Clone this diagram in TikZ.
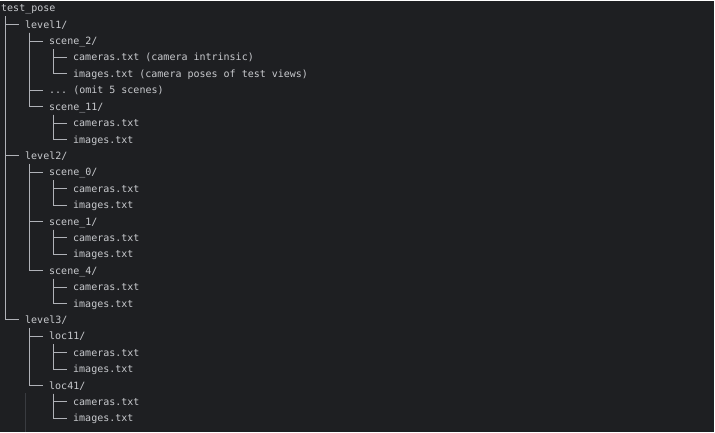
\documentclass[tikz,border=0pt]{standalone}
\usepackage{fontspec}
\setmonofont{DejaVu Sans Mono}
\usetikzlibrary{calc}

\definecolor{bgdark}{HTML}{1E1F22}
\definecolor{txtgray}{HTML}{C8CACE}
\definecolor{linegray}{HTML}{B0B2B8}
\definecolor{guidegray}{HTML}{393B40}

\tikzset{
    entry/.style={anchor=west, inner sep=0pt, text height=7.5pt, text depth=0.5pt,
        text=txtgray, font=\ttfamily\fontsize{10}{12}\selectfont},
    branch/.style={draw=linegray, line width=1pt, shorten >=6pt},
    guide/.style={draw=guidegray, line width=0.8pt}
}

% parent -> child connector of the tree
\newcommand{\treeedge}[2]{\draw[branch] ($(#1.west)+(4,8)$) |- (#2.west);}

\begin{document}
\begin{tikzpicture}[x=1pt, y=-1pt]

    % Frame
    \fill[white] (0,0) rectangle (715,433);
    \fill[bgdark] (0,1.5) rectangle (713.5,432);
    \useasboundingbox (0,0) rectangle (715,433);

    % Nodes

    \node[entry] (root)   at (1,8.3)    {test\_pose};
    \node[entry] (lvA)    at (25,24.7)  {level1/};
    \node[entry] (sc2)    at (49,41.1)  {scene\_2/};
    \node[entry] (sc2c)   at (73,57.5)  {cameras.txt (camera intrinsic)};
    \node[entry] (sc2i)   at (73,73.9)  {images.txt (camera poses of test views)};
    \node[entry] (omit)   at (49,90.3)  {... (omit 5 scenes)};
    \node[entry] (sc11)   at (49,106.7) {scene\_11/};
    \node[entry] (sc11c)  at (73,123.1) {cameras.txt};
    \node[entry] (sc11i)  at (73,139.5) {images.txt};

    \node[entry] (lvB)    at (25,155.9) {level2/};
    \node[entry] (sc0)    at (49,172.3) {scene\_0/};
    \node[entry] (sc0c)   at (73,188.7) {cameras.txt};
    \node[entry] (sc0i)   at (73,205.1) {images.txt};
    \node[entry] (sc1)    at (49,221.5) {scene\_1/};
    \node[entry] (sc1c)   at (73,237.9) {cameras.txt};
    \node[entry] (sc1i)   at (73,254.3) {images.txt};
    \node[entry] (sc4)    at (49,270.7) {scene\_4/};
    \node[entry] (sc4c)   at (73,287.1) {cameras.txt};
    \node[entry] (sc4i)   at (73,303.5) {images.txt};

    \node[entry] (lvC)    at (25,319.9) {level3/};
    \node[entry] (loc11)  at (49,336.3) {loc11/};
    \node[entry] (loc11c) at (73,352.7) {cameras.txt};
    \node[entry] (loc11i) at (73,369.1) {images.txt};
    \node[entry] (loc41)  at (49,385.5) {loc41/};
    \node[entry] (loc41c) at (73,401.9) {cameras.txt};
    \node[entry] (loc41i) at (73,418.3) {images.txt};

    % Tree lines

    \treeedge {root} {lvA}
    \treeedge {root} {lvB}
    \treeedge {root} {lvC}

    \treeedge {lvA} {sc2}
    \treeedge {lvA} {omit}
    \treeedge {lvA} {sc11}
    \treeedge {sc2} {sc2c}
    \treeedge {sc2} {sc2i}
    \treeedge {sc11} {sc11c}
    \treeedge {sc11} {sc11i}

    \treeedge {lvB} {sc0}
    \treeedge {lvB} {sc1}
    \treeedge {lvB} {sc4}
    \treeedge {sc0} {sc0c}
    \treeedge {sc0} {sc0i}
    \treeedge {sc1} {sc1c}
    \treeedge {sc1} {sc1i}
    \treeedge {sc4} {sc4c}
    \treeedge {sc4} {sc4i}

    \treeedge {lvC} {loc11}
    \treeedge {lvC} {loc41}
    \treeedge {loc11} {loc11c}
    \treeedge {loc11} {loc11i}
    \treeedge {loc41} {loc41c}
    \treeedge {loc41} {loc41i}

    % Indent guide
    \draw[guide] ($(lvC.west)+(0.5,73)$) -- ($(lvC.west)+(0.5,112)$);

\end{tikzpicture}
\end{document}
